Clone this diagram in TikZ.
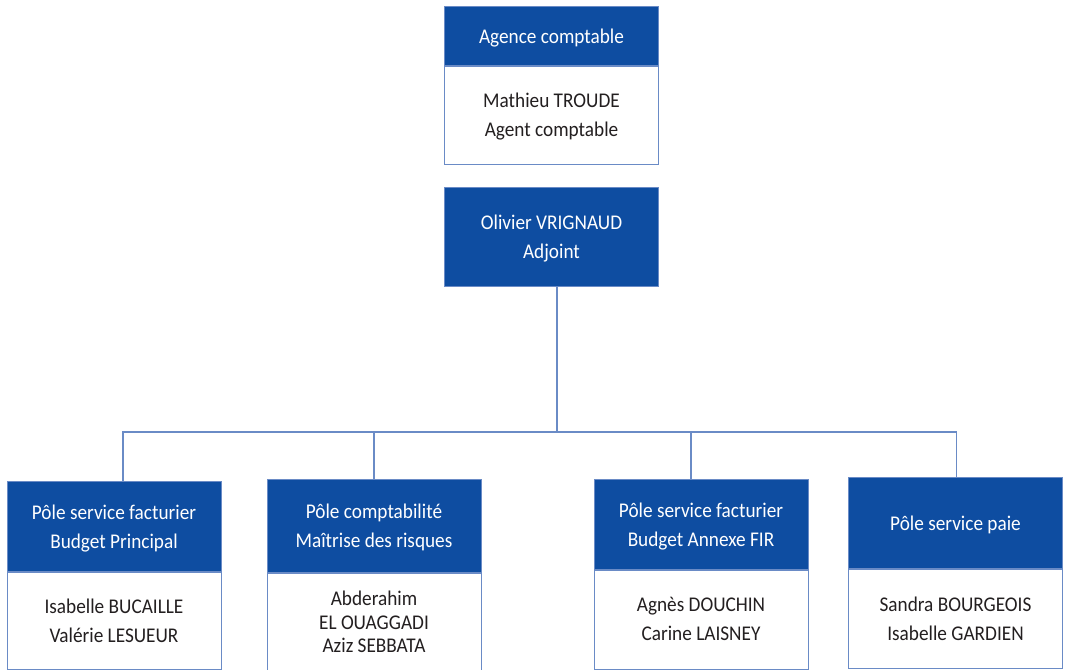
\documentclass[tikz,border=0pt]{standalone}
\usepackage{fontspec}
\setmainfont{Carlito}[FakeStretch=0.92]
\usepackage{xcolor}
\usetikzlibrary{positioning}
\definecolor{pole}{HTML}{0E4DA1}
\definecolor{trait}{HTML}{6A8BC6}
\definecolor{encre}{HTML}{231F20}

\begin{document}
\begin{tikzpicture}[x=0.75pt,y=-0.75pt,
    entete/.style={draw=trait, fill=pole, text=white, align=center,
        minimum width=160.5pt, inner sep=0pt, anchor=north, text depth=0pt,
        font=\fontsize{15.7}{21.75}\selectfont},
    corps/.style={draw=trait, fill=white, text=encre, align=center,
        minimum width=160.5pt, inner sep=0pt, text depth=0pt,
        font=\fontsize{15.7}{21.75}\selectfont},
    lien/.style={draw=trait, line width=0.8pt}]
    \useasboundingbox (0,0) rectangle (1067,670);

    % Agence
    \node[entete, minimum height=44.25pt] (agence) at (551.5,6) {Agence comptable};
    \node[corps, minimum height=73.5pt, below=0pt of agence] (agent) {Mathieu TROUDE\\Agent comptable};

    % Adjoint
    \node[entete, minimum height=74.25pt] (adjoint) at (551.5,187) {Olivier VRIGNAUD\\Adjoint};

    % Poles
    \node[entete, minimum height=67.5pt] (h1) at (114,481) {Pôle service facturier\\Budget Principal};
    \node[corps, minimum height=72.75pt, below=0pt of h1] (b1) {Isabelle BUCAILLE\\Valérie LESUEUR};
    \node[entete, minimum height=69.75pt] (h2) at (374,479) {Pôle comptabilité\\Maîtrise des risques};
    \node[corps, minimum height=73.5pt, below=0pt of h2,
        font=\fontsize{15.7}{17.6}\selectfont] (b2) {Abderahim\\EL OUAGGADI\\Aziz SEBBATA};
    \node[entete, minimum height=67.5pt] (h3) at (701,479) {Pôle service facturier\\Budget Annexe FIR};
    \node[corps, minimum height=74.25pt, below=0pt of h3] (b3) {Agnès DOUCHIN\\Carine LAISNEY};
    \node[entete, minimum height=68.25pt] (h4) at (955.5,477) {Pôle service paie};
    \node[corps, minimum height=74.25pt, below=0pt of h4] (b4) {Sandra BOURGEOIS\\Isabelle GARDIEN};

    % Liens
    \coordinate (bus) at (557,432);
    \draw[lien] (adjoint.south -| bus) -- (bus);
    \draw[lien] ([xshift=6.75pt]h1.north) |- (bus) -| ([xshift=0.4pt]h4.north);
    \draw[lien] (h2.north) -- (h2.north |- bus);
    \draw[lien] ([xshift=-7.5pt]h3.north) -- ([xshift=-7.5pt]h3.north |- bus);
\end{tikzpicture}
\end{document}
